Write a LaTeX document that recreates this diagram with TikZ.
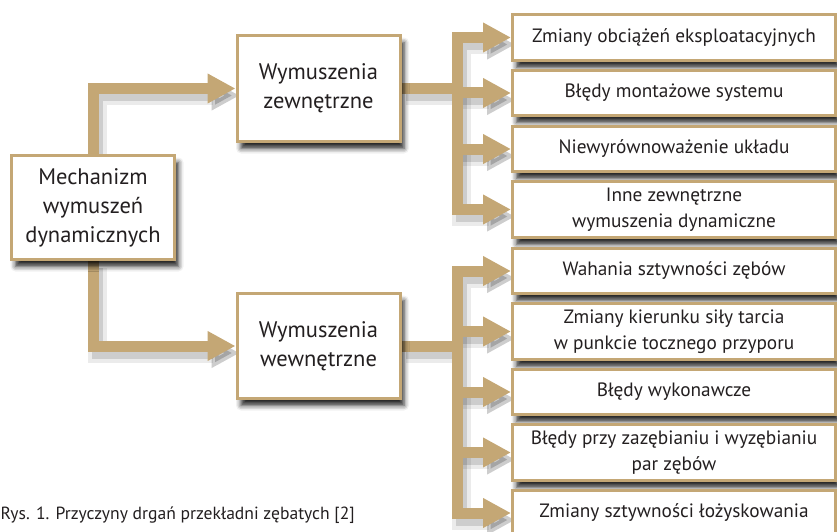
\documentclass[tikz,border=0pt]{standalone}
\usepackage{fontspec}
\setmainfont{PT Sans}
\usetikzlibrary{arrows.meta,shadows.blur,backgrounds}
\definecolor{braz}{HTML}{C4A775}
\definecolor{ink}{HTML}{231F20}

\tikzset{
  box/.style={draw=braz,line width=3pt,fill=white,align=center,inner sep=0pt,text=ink,
    blur shadow={shadow xshift=4pt,shadow yshift=-7pt,shadow blur radius=5pt,shadow opacity=85}},
  duzy/.style={box,minimum width=163pt,font=\fontsize{22.5}{29}\selectfont},
  maly/.style={box,minimum width=323pt,font=\fontsize{19.3}{26}\selectfont},
  grot/.style={-{Triangle[length=28pt,width=28pt]}},
  dwa/.style={{Triangle[length=28pt,width=28pt]}-{Triangle[length=28pt,width=28pt]}},
  bez/.style={-},
  linia/.style={draw=braz,line width=11pt},
  cien/.style={draw=black,opacity=.13,line width=11pt,transform canvas={xshift=4pt,yshift=-7pt}},
  cienb/.style={draw=black,opacity=.08,line width=19pt,transform canvas={xshift=4pt,yshift=-7pt}}
}

\begin{document}
\begin{tikzpicture}[x=1pt,y=-1pt]
\useasboundingbox (0,0) rectangle (837,532);

\node[duzy,minimum height=104pt](1) at (93,207.5) {Mechanizm\\wymuszeń\\dynamicznych};
\node[duzy,minimum height=106pt](2) at (318.5,88.5) {Wymuszenia\\zewnętrzne};
\node[duzy,minimum height=105pt](3) at (318.5,346) {Wymuszenia\\wewnętrzne};

\node[maly,minimum height=46pt](4) at (674,37.5) {Zmiany obciążeń eksploatacyjnych};
\node[maly,minimum height=45pt](5) at (674,93) {Błędy montażowe systemu};
\node[maly,minimum height=45pt](6) at (674,149) {Niewyrównoważenie układu};
\node[maly,minimum height=56pt](7) at (674,209.5) {Inne zewnętrzne\\wymuszenia dynamiczne};

\node[maly,minimum height=45pt](8) at (674,271) {Wahania sztywności zębów};
\node[maly,minimum height=56pt](9) at (674,331.5) {Zmiany kierunku siły tarcia\\w punkcie tocznego przyporu};
\node[maly,minimum height=45pt](10) at (674,392) {Błędy wykonawcze};
\node[maly,minimum height=56pt](11) at (674,452.5) {Błędy przy zazębianiu i wyzębianiu\\par zębów};
\node[maly,minimum height=45pt](12) at (674,513) {Zmiany sztywności łożyskowania};

\node[anchor=west,text=ink,font=\fontsize{17.6}{20}\selectfont](13) at (-3,515) {Rys. 1. Przyczyny drgań przekładni zębatych [2]};

\coordinate (b1) at (457,88.5);
\coordinate (b2) at (457,346);

\begin{scope}[on background layer]
\foreach \s in {cienb,cien,linia}{
  \draw[\s,grot] (1.north) |- (2.west);
  \draw[\s,grot] (1.south) |- (3.west);
  % zewnetrzne
  \draw[\s,bez] (2.east) -- (b1);
  \draw[\s,dwa] (4.west) -| (b1) |- (7.west);
  \draw[\s,grot] (b1 |- 5.west) -- (5.west);
  \draw[\s,grot] (b1 |- 6.west) -- (6.west);
  % wewnetrzne
  \draw[\s,bez] (3.east) -- (b2);
  \draw[\s,dwa] (8.west) -| (b2) |- (12.west);
  \draw[\s,grot] (b2 |- 9.west) -- (9.west);
  \draw[\s,grot] (b2 |- 10.west) -- (10.west);
  \draw[\s,grot] (b2 |- 11.west) -- (11.west);
}
\end{scope}
\end{tikzpicture}
\end{document}
